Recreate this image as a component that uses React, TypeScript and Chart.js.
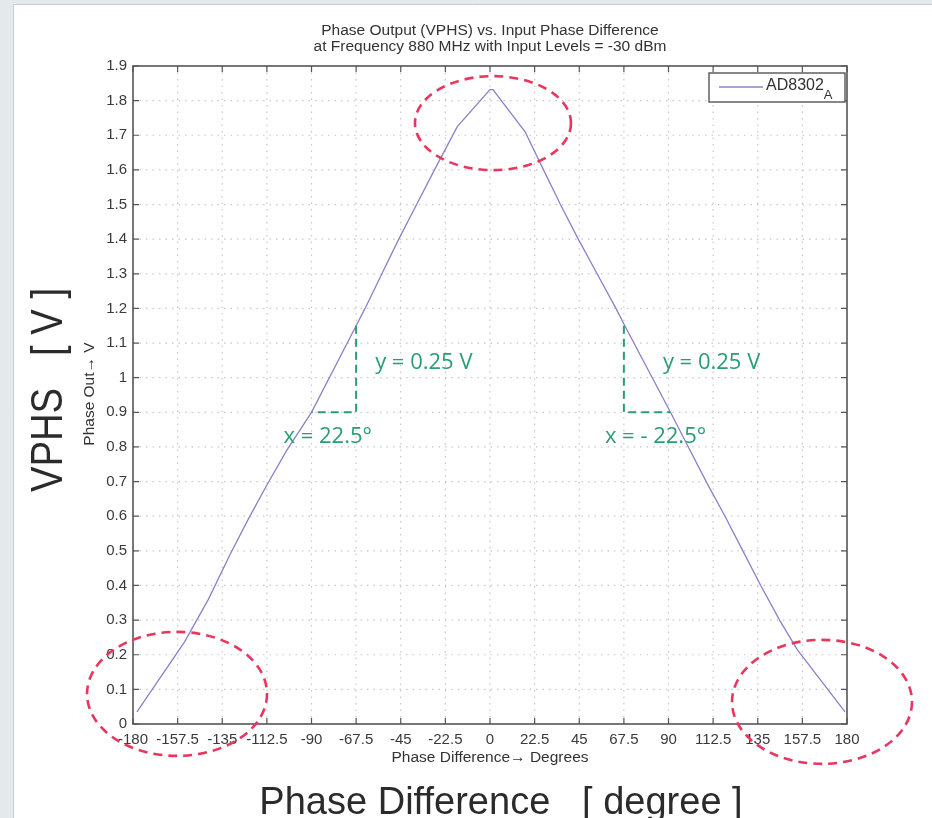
import { useEffect, useRef } from "react";
import { Chart, registerables } from "chart.js";

Chart.register(...registerables);

// Measured phase detector output (VPHS) against input phase difference
const phaseDeg = [
  -178, -154, -142, -131, -122, -112.5, -102.5, -90, -67.5, -63, -54.5, -46, -37, -28, -16.5, 0, 1.5,
  17.7, 27, 35.5, 44.5, 54, 63.5, 67.5, 91, 100, 109, 118.5, 127.5, 136.5, 146, 155, 179,
];
const vphs = [
  0.035, 0.237, 0.36, 0.49, 0.59, 0.69, 0.79, 0.9, 1.15, 1.2, 1.3, 1.4, 1.5, 1.6, 1.725, 1.832, 1.832,
  1.71, 1.6, 1.5, 1.4, 1.3, 1.2, 1.155, 0.9, 0.8, 0.7, 0.6, 0.5, 0.4, 0.3, 0.214, 0.035,
];

const xTickValues = [
  -180, -157.5, -135, -112.5, -90, -67.5, -45, -22.5, 0, 22.5, 45, 67.5, 90, 112.5, 135, 157.5, 180,
];
const xTickLabels = [
  "-180", "-157.5", "-135", "-112.5", "-90", "-67.5", "-45", "-22.5", "0", "22.5", "45", "67.5", "90",
  "112.5", "135", "157.5", "180",
];
const yTickValues = [0, 0.1, 0.2, 0.3, 0.4, 0.5, 0.6, 0.7, 0.8, 0.9, 1, 1.1, 1.2, 1.3, 1.4, 1.5, 1.6, 1.7, 1.8, 1.9];
const yTickLabels = [
  "0", "0.1", "0.2", "0.3", "0.4", "0.5", "0.6", "0.7", "0.8", "0.9", "1", "1.1", "1.2", "1.3", "1.4",
  "1.5", "1.6", "1.7", "1.8", "1.9",
];

// Slope triangles: [corner x, corner y, run, rise]
const slopeLeft = [-90, 0.9, 22.5, 0.25];
const slopeRight = [90.8, 0.9, -23.3, 0.25];

// Highlight rings: [centre x (deg), centre y (V), radius x (px), radius y (px)]
const ringPeak = [1.5, 1.735, 78, 47];
const ringLow = [-157.8, 0.087, 90, 62];
const ringHigh = [167.4, 0.064, 90, 62];

const FONT = '"Liberation Sans", Arial, Helvetica, sans-serif';
const GREEN = "#2a9d74";
const RED = "#e8365e";
const LINE = "#8b80c9";

const decorations = {
  id: "decorations",
  beforeDraw(chart: any) {
    const { ctx, width, height, chartArea: a, scales } = chart;
    ctx.save();
    ctx.fillStyle = "#e4e9eb";
    ctx.fillRect(0, 0, width, height);
    ctx.fillStyle = "#ffffff";
    ctx.fillRect(13, 4, width - 13, height - 4);
    ctx.strokeStyle = "#c6cbce";
    ctx.lineWidth = 1;
    ctx.beginPath();
    ctx.moveTo(13.5, height);
    ctx.lineTo(13.5, 4.5);
    ctx.lineTo(width, 4.5);
    ctx.stroke();

    // dotted grid
    ctx.strokeStyle = "#c8c8c8";
    ctx.lineWidth = 1.2;
    ctx.setLineDash([1.5, 5]);
    for (const v of xTickValues) {
      const x = scales.x.getPixelForValue(v);
      if (x <= a.left + 1 || x >= a.right - 1) continue;
      ctx.beginPath();
      ctx.moveTo(x, a.bottom);
      ctx.lineTo(x, a.top);
      ctx.stroke();
    }
    for (const v of yTickValues) {
      const y = scales.y.getPixelForValue(v);
      if (y >= a.bottom - 1 || y <= a.top + 1) continue;
      ctx.beginPath();
      ctx.moveTo(a.left, y);
      ctx.lineTo(a.right, y);
      ctx.stroke();
    }
    ctx.restore();
  },
  afterDraw(chart: any) {
    const { ctx, chartArea: a, scales } = chart;
    const sx = (v: number) => scales.x.getPixelForValue(v);
    const sy = (v: number) => scales.y.getPixelForValue(v);
    ctx.save();

    // axes box with inward ticks
    ctx.strokeStyle = "#555";
    ctx.lineWidth = 1.6;
    ctx.setLineDash([]);
    ctx.strokeRect(a.left, a.top, a.right - a.left, a.bottom - a.top);
    ctx.lineWidth = 1.2;
    const t = 6;
    for (const v of xTickValues) {
      const x = sx(v);
      ctx.beginPath();
      ctx.moveTo(x, a.bottom);
      ctx.lineTo(x, a.bottom - t);
      ctx.moveTo(x, a.top);
      ctx.lineTo(x, a.top + t);
      ctx.stroke();
    }
    for (const v of yTickValues) {
      const y = sy(v);
      ctx.beginPath();
      ctx.moveTo(a.left, y);
      ctx.lineTo(a.left + t, y);
      ctx.moveTo(a.right, y);
      ctx.lineTo(a.right - t, y);
      ctx.stroke();
    }

    // title
    const cx = (a.left + a.right) / 2;
    ctx.fillStyle = "#333";
    ctx.font = `15.5px ${FONT}`;
    ctx.textAlign = "center";
    ctx.textBaseline = "middle";
    ctx.fillText("Phase Output (VPHS) vs. Input Phase Difference", cx, 31);
    ctx.fillText("at Frequency 880 MHz with Input Levels = -30 dBm", cx, 47);

    // axis captions
    ctx.font = `15.5px ${FONT}`;
    ctx.fillText("Phase Difference\u2192 Degrees", cx, 758);
    ctx.save();
    ctx.translate(90, 394);
    ctx.rotate(-Math.PI / 2);
    ctx.fillText("Phase Out\u2192 V", 0, 0);
    ctx.restore();

    // large captions
    ctx.fillStyle = "#2b2b2b";
    ctx.font = `39px ${FONT}`;
    ctx.save();
    ctx.translate(501, 803);
    ctx.scale(0.975, 1);
    ctx.fillText("Phase Difference   [ degree ]", 0, 0);
    ctx.restore();
    ctx.save();
    ctx.font = `44px ${FONT}`;
    ctx.translate(50, 390);
    ctx.rotate(-Math.PI / 2);
    ctx.scale(0.87, 1);
    ctx.fillText("VPHS   [ V ]", 0, 0);
    ctx.restore();

    // legend
    const lx = 709, ly = 73, lw = a.right - 2 - lx, lh = 29;
    ctx.fillStyle = "#fff";
    ctx.fillRect(lx, ly, lw, lh);
    ctx.strokeStyle = "#555";
    ctx.lineWidth = 1.4;
    ctx.strokeRect(lx, ly, lw, lh);
    ctx.strokeStyle = LINE;
    ctx.lineWidth = 1.3;
    ctx.beginPath();
    ctx.moveTo(719, 87);
    ctx.lineTo(763, 87);
    ctx.stroke();
    ctx.fillStyle = "#333";
    ctx.textAlign = "left";
    ctx.font = `16px ${FONT}`;
    ctx.fillText("AD8302", 766, 86);
    const w = ctx.measureText("AD8302").width;
    ctx.font = `13px ${FONT}`;
    ctx.fillText("A", 766 + w, 95);

    // slope triangles
    ctx.strokeStyle = GREEN;
    ctx.lineWidth = 2;
    ctx.setLineDash([8, 5]);
    for (const [x0, y0, dx, dy] of [slopeLeft, slopeRight]) {
      const xc = x0 + dx;
      ctx.beginPath();
      ctx.moveTo(sx(xc), sy(y0 + dy));
      ctx.lineTo(sx(xc), sy(y0));
      ctx.lineTo(sx(x0), sy(y0));
      ctx.stroke();
    }
    ctx.setLineDash([]);
    ctx.fillStyle = GREEN;
    ctx.font = `22px "Open Sans", ${FONT}`;
    ctx.textAlign = "left";
    ctx.textBaseline = "middle";
    const lc = sx(slopeLeft[0] + slopeLeft[2]);
    const rc = sx(slopeRight[0] + slopeRight[2]);
    const yMid = sy(1.05) + 2;
    const yLow = sy(slopeLeft[1]) + 24;
    ctx.fillText("y = 0.25 V", lc + 19, yMid);
    ctx.fillText("x = 22.5\u00b0", sx(slopeLeft[0]) - 28, yLow);
    ctx.fillText("y = 0.25 V", rc + 39, yMid);
    ctx.fillText("x = - 22.5\u00b0", rc - 19, yLow);

    // highlight rings
    ctx.strokeStyle = RED;
    ctx.lineWidth = 2.6;
    ctx.setLineDash([9, 6]);
    for (const [ex, ey, rx, ry] of [ringPeak, ringLow, ringHigh]) {
      ctx.beginPath();
      ctx.ellipse(sx(ex), sy(ey), rx, ry, 0, 0, Math.PI * 2);
      ctx.stroke();
    }
    ctx.restore();
  },
};

export default function App() {
  const ref = useRef<HTMLCanvasElement | null>(null);

  useEffect(() => {
    if (!ref.current) return;
    const chart = new Chart(ref.current, {
      type: "line",
      data: {
        datasets: [
          {
            label: "AD8302",
            data: phaseDeg.map((x, i) => ({ x, y: vphs[i] })),
            borderColor: LINE,
            borderWidth: 1.3,
            pointRadius: 0,
            tension: 0,
            fill: false,
          },
        ],
      },
      options: {
        animation: false,
        responsive: false,
        events: [],
        layout: { padding: { left: 85, top: 66, right: 85, bottom: 64 } },
        plugins: { legend: { display: false }, title: { display: false }, tooltip: { enabled: false } },
        scales: {
          x: {
            type: "linear",
            min: -180,
            max: 180,
            grid: { display: false, drawTicks: false, tickLength: 0 },
            border: { display: false },
            afterBuildTicks: (s: any) => {
              s.ticks = xTickValues.map((value) => ({ value }));
            },
            afterFit: (s: any) => {
              s.height = 30;
            },
            ticks: {
              autoSkip: false,
              maxRotation: 0,
              padding: 7,
              color: "#3a3a3a",
              font: { family: FONT, size: 15 },
              callback: (_v: any, i: number) => xTickLabels[i],
            },
          },
          y: {
            type: "linear",
            min: 0,
            max: 1.9,
            grid: { display: false, drawTicks: false, tickLength: 0 },
            border: { display: false },
            afterBuildTicks: (s: any) => {
              s.ticks = yTickValues.map((value) => ({ value }));
            },
            afterFit: (s: any) => {
              s.width = 48;
            },
            ticks: {
              autoSkip: false,
              padding: 6,
              color: "#3a3a3a",
              font: { family: FONT, size: 15 },
              callback: (_v: any, i: number) => yTickLabels[i],
            },
          },
        },
      },
      plugins: [decorations],
    });
    return () => chart.destroy();
  }, []);

  return (
    <div style={{ position: "fixed", left: 0, top: 0, width: 932, height: 818 }}>
      <canvas ref={ref} width={932} height={818} style={{ width: 932, height: 818, display: "block" }} />
    </div>
  );
}
